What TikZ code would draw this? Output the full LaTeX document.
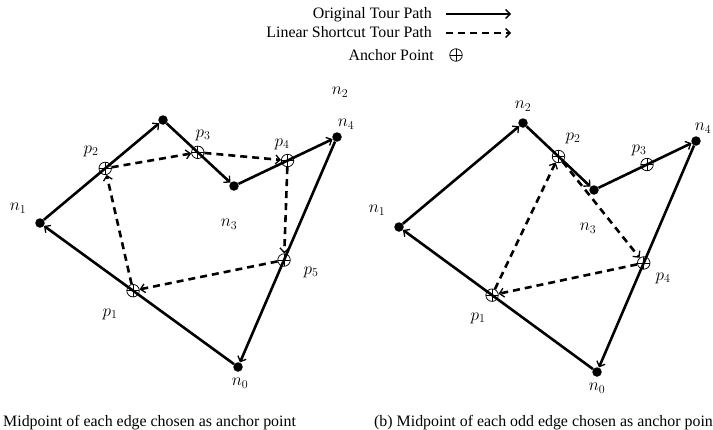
\documentclass[tikz,border=0pt]{standalone}
\usepackage{fontspec}
\setmainfont{Liberation Serif}
\usetikzlibrary{arrows.meta,calc}
\begin{document}
\begin{tikzpicture}[x=1pt,y=-1pt,
  tour/.style={line width=2.6pt,-{Straight Barb[length=4.5pt,width=9pt,line width=1.3pt]}},
  shortcut/.style={line width=2.6pt,dash pattern=on 7pt off 5pt,-{Straight Barb[length=4.5pt,width=9pt,line width=1.3pt]}},
  city/.style={circle,fill=black,inner sep=0pt,minimum size=9.5pt},
  anchorpt/.style={circle,draw,line width=0.75pt,inner sep=0pt,minimum size=12.5pt,
    path picture={\draw[line width=0.75pt] (path picture bounding box.north) -- (path picture bounding box.south)
      (path picture bounding box.west) -- (path picture bounding box.east);}},
  lbl/.style={inner sep=0pt,font=\fontsize{17.5}{21}\selectfont},
  txt/.style={inner sep=0pt,font=\fontsize{15.9}{19}\selectfont}
]
\useasboundingbox (0,0) rectangle (713,429);

% legend
\node[txt,anchor=base east] (lg1) at (432,18.5) {Original Tour Path};
\node[txt,anchor=base east] (lg2) at (432,37.5) {Linear Shortcut Tour Path};
\node[txt,anchor=base east] (lg3) at (434,60) {Anchor Point};
\coordinate (lg1s) at (446,14); \coordinate (lg1e) at (511,14);
\coordinate (lg2s) at (446,33); \coordinate (lg2e) at (511,33);
\draw[tour] (lg1s) -- (lg1e);
\draw[shortcut] (lg2s) -- (lg2e);
\node[anchorpt] (lg3a) at (456,55) {};

% ---------- left figure ----------
\node[city] (An0) at (238,367) {};
\node[city] (An1) at (40,223) {};
\node[city] (An2) at (163,120) {};
\node[city] (An3) at (234,186) {};
\node[city] (An4) at (337,137) {};
\draw[tour] (An0) -- (An1);
\draw[tour] (An1) -- (An2);
\draw[tour] (An2) -- (An3);
\draw[tour] (An3) -- (An4);
\draw[tour] (An4) -- (An0);
\node[anchorpt] (Ap1) at ($(An0)!0.53!(An1)$) {};
\node[anchorpt] (Ap2) at ($(An1)!0.53!(An2)$) {};
\node[anchorpt] (Ap3) at ($(An2)!0.49!(An3)$) {};
\node[anchorpt] (Ap4) at ($(An3)!0.52!(An4)$) {};
\node[anchorpt] (Ap5) at ($(An4)!0.535!(An0)$) {};
\draw[shortcut] (Ap2) -- (Ap3);
\draw[shortcut] (Ap3) -- (Ap4);
\draw[shortcut] (Ap4) -- (Ap5);
\draw[shortcut] (Ap5) -- (Ap1);
\draw[shortcut] (Ap1) -- (Ap2);
\node[lbl] (Aln0) at (240,383) {$n_0$};
\node[lbl] (Aln1) at (18,208) {$n_1$};
\node[lbl] (Aln2) at (340,92) {$n_2$};
\node[lbl] (Aln3) at (229,224) {$n_3$};
\node[lbl] (Aln4) at (346,124) {$n_4$};
\node[lbl] (Alp1) at (110,314) {$p_1$};
\node[lbl] (Alp2) at (91,151) {$p_2$};
\node[lbl] (Alp3) at (203,135) {$p_3$};
\node[lbl] (Alp4) at (282,144) {$p_4$};
\node[lbl] (Alp5) at (311,272) {$p_5$};

% ---------- right figure ----------
\node[city] (Bn0) at (597,372) {};
\node[city] (Bn1) at (399,227) {};
\node[city] (Bn2) at (523,123) {};
\node[city] (Bn3) at (594,190) {};
\node[city] (Bn4) at (696,141) {};
\draw[tour] (Bn0) -- (Bn1);
\draw[tour] (Bn1) -- (Bn2);
\draw[tour] (Bn2) -- (Bn3);
\draw[tour] (Bn3) -- (Bn4);
\draw[tour] (Bn4) -- (Bn0);
\node[anchorpt] (Bp1) at ($(Bn0)!0.53!(Bn1)$) {};
\node[anchorpt] (Bp2) at ($(Bn2)!0.5!(Bn3)$) {};
\node[anchorpt] (Bp3) at ($(Bn3)!0.52!(Bn4)$) {};
\node[anchorpt] (Bp4) at ($(Bn4)!0.528!(Bn0)$) {};
\draw[shortcut] (Bp1) -- (Bp2);
\draw[shortcut] (Bp2) -- (Bp4);
\draw[shortcut] (Bp4) -- (Bp1);
\node[lbl] (Bln0) at (597,388) {$n_0$};
\node[lbl] (Bln1) at (377,210) {$n_1$};
\node[lbl] (Bln2) at (523,106) {$n_2$};
\node[lbl] (Bln3) at (588,228) {$n_3$};
\node[lbl] (Bln4) at (703,128) {$n_4$};
\node[lbl] (Blp1) at (478,318) {$p_1$};
\node[lbl] (Blp2) at (573,138) {$p_2$};
\node[lbl] (Blp3) at (639,150) {$p_3$};
\node[lbl] (Blp4) at (663,278) {$p_4$};

% captions
\node[txt,anchor=base west] (capA) at (3,426) {Midpoint of each edge chosen as anchor point};
\node[txt,anchor=base west] (capB) at (374,426) {(b) Midpoint of each odd edge chosen as anchor poin};
\end{tikzpicture}
\end{document}
